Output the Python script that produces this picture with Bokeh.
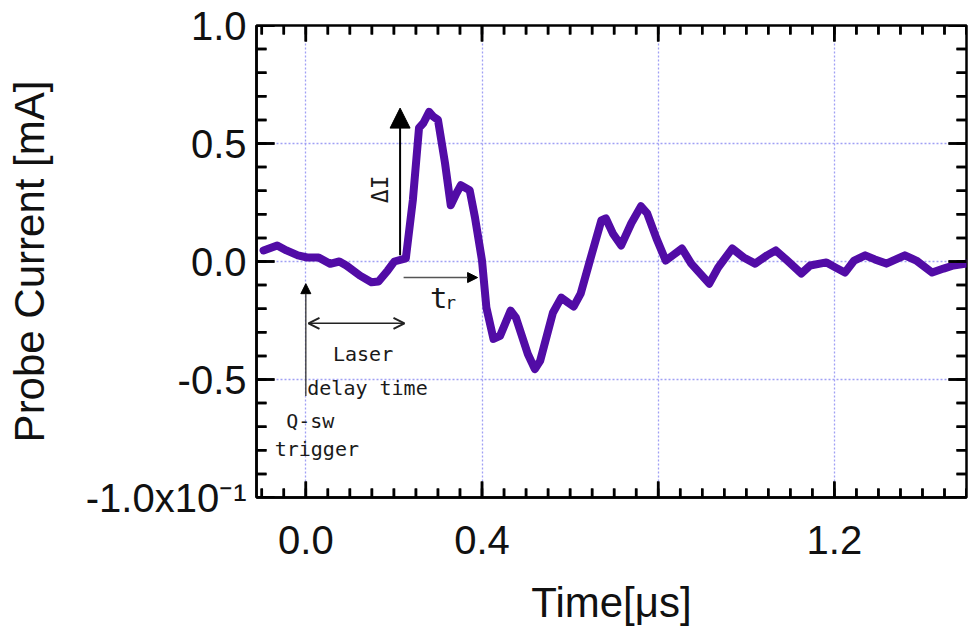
import math
from bokeh.plotting import figure
from bokeh.models import (FixedTicker, Arrow, NormalHead, OpenHead, Range1d,
                          ColumnDataSource)
from bokeh.core.properties import value
from bokeh.embed import file_html
from bokeh.resources import INLINE

# ---- data ----
time_us = [-0.096, -0.065, -0.044, -0.018, 0.003, 0.029, 0.055, 0.076, 0.092, 0.123,
           0.149, 0.165, 0.186, 0.201, 0.227, 0.243, 0.257, 0.267, 0.280, 0.290,
           0.300, 0.316, 0.329, 0.342, 0.352, 0.372, 0.384, 0.400, 0.410, 0.426,
           0.441, 0.465, 0.477, 0.504, 0.520, 0.532, 0.561, 0.580, 0.595, 0.608,
           0.624, 0.645, 0.671, 0.681, 0.697, 0.716, 0.739, 0.761, 0.775, 0.796,
           0.817, 0.833, 0.854, 0.875, 0.916, 0.936, 0.968, 0.994, 1.020, 1.047,
           1.067, 1.093, 1.125, 1.145, 1.182, 1.203, 1.224, 1.245, 1.270, 1.292,
           1.318, 1.360, 1.386, 1.422, 1.448, 1.470, 1.500]
current_ma = [0.047, 0.068, 0.047, 0.026, 0.017, 0.017, -0.010, 0.000, -0.017, -0.060,
              -0.088, -0.085, -0.038, 0.000, 0.013, 0.260, 0.566, 0.587, 0.634, 0.613,
              0.600, 0.417, 0.238, 0.289, 0.323, 0.302, 0.187, 0.004, -0.196, -0.328,
              -0.315, -0.208, -0.238, -0.392, -0.456, -0.421, -0.217, -0.153, -0.174, -0.191,
              -0.136, 0.004, 0.174, 0.183, 0.119, 0.068, 0.162, 0.234, 0.204, 0.098,
              0.004, 0.026, 0.055, -0.009, -0.094, -0.026, 0.055, 0.017, -0.009, 0.026,
              0.047, 0.004, -0.051, -0.017, -0.004, -0.026, -0.047, 0.004, 0.026, 0.009,
              -0.009, 0.026, 0.004, -0.047, -0.030, -0.017, -0.009]

x_major = [0.0, 0.4, 0.8, 1.2]
x_labels = {0.0: "0.0", 0.4: "0.4", 0.8: "", 1.2: "1.2"}
x_minor = [round(-0.1 + 0.05 * i, 2) for i in range(33)]
y_major = [-1.0, -0.5, 0.0, 0.5, 1.0]
y_labels = {-1.0: "-1.0x10\u207b\u00b9", -0.5: "-0.5", 0.0: "0.0", 0.5: "0.5", 1.0: "1.0"}
y_minor = [round(-1.0 + 0.1 * i, 1) for i in range(21)]

# annotation texts: (text, x, y)
notes = [("Laser", 0.130, -0.391), ("delay time", 0.140, -0.536),
         ("Q-sw", 0.010, -0.677), ("trigger", 0.025, -0.796)]

X0, X1, Y0, Y1 = -0.112, 1.5, -1.0, 1.0
W, H = 969, 630
BL, BR, BT, BB = 256, 3, 25, 133
TICK_FONT = "Liberation Sans"
PURPLE = "#520ca6"
GRID = "#a0a0f4"

p = figure(width=W, height=H, output_backend="svg", toolbar_location=None,
           x_range=Range1d(X0, X1), y_range=Range1d(Y0, Y1),
           min_border_left=BL, min_border_right=BR, min_border_top=BT,
           min_border_bottom=BB)
p.outline_line_color = "black"
p.outline_line_width = 2.5

xt = FixedTicker(ticks=list(x_major), minor_ticks=list(x_minor))
yt = FixedTicker(ticks=list(y_major), minor_ticks=list(y_minor))

def style_axis(ax):
    ax.axis_line_color = "black"
    ax.axis_line_width = 2.5
    ax.major_tick_in = 0
    ax.major_tick_out = 0
    ax.minor_tick_in = 0
    ax.minor_tick_out = 0

xa = p.xaxis[0]
xa.ticker = xt
xa.major_label_overrides = dict(x_labels)
xa.major_label_text_font = TICK_FONT
xa.major_label_text_font_size = "40px"
xa.major_label_text_color = "#111111"
xa.major_label_standoff = 28
xa.axis_label = "Time[\u03bcs]"
xa.axis_label_text_font = TICK_FONT
xa.axis_label_text_font_size = "42px"
xa.axis_label_text_font_style = "normal"
xa.axis_label_text_color = "#111111"
xa.axis_label_standoff = 22
style_axis(xa)

ya = p.yaxis[0]
ya.ticker = yt
ya.major_label_overrides = dict(y_labels)
ya.major_label_text_font = TICK_FONT
ya.major_label_text_font_size = "40px"
ya.major_label_text_color = "#111111"
ya.major_label_standoff = 10
ya.axis_label = "Probe Current [mA]"
ya.axis_label_text_font = TICK_FONT
ya.axis_label_text_font_size = "42px"
ya.axis_label_text_font_style = "normal"
ya.axis_label_text_color = "#111111"
ya.axis_label_standoff = 30
style_axis(ya)

p.xgrid.ticker = xt
p.ygrid.ticker = yt
for g in (p.xgrid[0], p.ygrid[0]):
    g.grid_line_color = GRID
    g.grid_line_dash = "2 2"
    g.grid_line_width = 1.3

p.line(list(time_us), list(current_ma), line_color=PURPLE, line_width=8,
       line_join="round", line_cap="round")

# arrows
p.add_layout(Arrow(end=NormalHead(size=20, fill_color="black", line_color="black"),
                   x_start=0.214, y_start=0.026, x_end=0.214, y_end=0.65,
                   line_color="black", line_width=2))
p.add_layout(Arrow(end=NormalHead(size=10, fill_color="black", line_color="black"),
                   x_start=0.222, y_start=-0.068, x_end=0.39, y_end=-0.068,
                   line_color="#555555", line_width=1.5))
p.add_layout(Arrow(start=OpenHead(size=11, line_width=2, line_color="#222222"),
                   end=OpenHead(size=11, line_width=2, line_color="#222222"),
                   x_start=0.006, y_start=-0.262, x_end=0.224, y_end=-0.262,
                   line_color="#222222", line_width=1.5))
p.add_layout(Arrow(end=NormalHead(size=10, fill_color="black", line_color="black"),
                   x_start=0.0, y_start=-0.57, x_end=0.0, y_end=-0.094,
                   line_color="#333333", line_width=1.3))

MONO = value("DejaVu Sans Mono")
p.text(x=[n[1] for n in notes], y=[n[2] for n in notes], text=[n[0] for n in notes],
       text_font=MONO, text_font_size="20px", text_color="#1a1a1a",
       text_align="center", text_baseline="middle")
p.text(x=[0.168], y=[0.306], text=["\u0394I"], angle=math.pi / 2,
       text_font=MONO, text_font_size="23px", text_color="#1a1a1a",
       text_align="center", text_baseline="middle")
p.text(x=[0.302], y=[-0.153], text=["t"], text_font=MONO, text_font_size="29px",
       text_color="#1a1a1a", text_align="center", text_baseline="middle")
p.text(x=[0.329], y=[-0.172], text=["r"], text_font=MONO, text_font_size="18px",
       text_color="#1a1a1a", text_align="center", text_baseline="middle")

# inward ticks on all four sides (pixel lengths converted to data units),
# drawn last, as one broken line (NaN gaps) plus a multi-line as backup
px_per_x = (W - BL - BR) / (X1 - X0)
px_per_y = (H - BT - BB) / (Y1 - Y0)
seg_xs, seg_ys = [], []
for xs, lp in ((x_minor, 9), (x_major, 16)):
    d = lp / px_per_y
    for x in xs:
        seg_xs.append([x, x]); seg_ys.append([Y0, Y0 + d])
        seg_xs.append([x, x]); seg_ys.append([Y1, Y1 - d])
for ys, lp in ((y_minor, 10), (y_major, 18)):
    d = lp / px_per_x
    for y in ys:
        seg_xs.append([X0, X0 + d]); seg_ys.append([y, y])
        seg_xs.append([X1, X1 - d]); seg_ys.append([y, y])

flat_x, flat_y = [], []
for sx, sy in zip(seg_xs, seg_ys):
    flat_x += [sx[0], sx[1], float("nan")]
    flat_y += [sy[0], sy[1], float("nan")]
p.line(x=flat_x, y=flat_y, line_color="black", line_width=2.5)
p.multi_line(xs=[list(s) for s in seg_xs], ys=[list(s) for s in seg_ys],
             line_color="black", line_width=2.5)

open("out.html", "w").write(file_html(p, INLINE))
